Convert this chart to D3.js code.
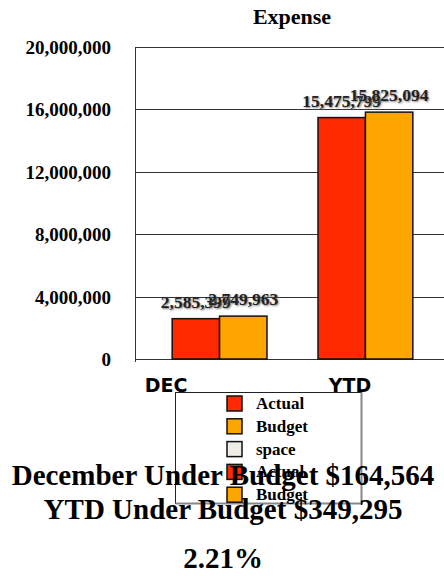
<!DOCTYPE html>
<html>
<head>
<meta charset="utf-8">
<script src="https://cdn.jsdelivr.net/npm/d3@7"></script>
<style>
  body { margin: 0; background: #fff; }
  svg text { font-family: "Liberation Serif", "Times New Roman", serif; font-weight: bold; }
  .val { text-shadow: 1px 1px 2px #777; }
</style>
</head>
<body>
<div id="chart"></div>
<script>
// data
var categories = ["DEC", "YTD"];
var seriesNames = ["Actual", "Budget"];
var actualValues = [2585399, 15475799];
var budgetValues = [2749963, 15825094];
var yTicks = [0, 4000000, 8000000, 12000000, 16000000, 20000000];
var legendNames = ["Actual", "Budget", "space", "Actual", "Budget"];
var summaryLines = ["December Under Budget $164,564", "YTD Under Budget $349,295", "2.21%"];

var W = 444, H = 576;
var svg = d3.select("#chart").append("svg").attr("width", W).attr("height", H);

var colors = {Actual: "#ff2a00", Budget: "#ffa500", space: "#eeeee6"};

var plotLeft = 135, plotRight = 444, plotTop = 47, plotBottom = 359;

var y = d3.scaleLinear().domain([0, 20000000]).range([plotBottom, plotTop]);
var x0 = d3.scaleBand().domain(categories).range([143, 442]).paddingInner(0.35).paddingOuter(0.2);
var x1 = d3.scaleBand().domain(seriesNames).range([0, x0.bandwidth()]);
var xLabel = d3.scalePoint().domain(categories).range([166, 350]);
var fmt = d3.format(",");

// title
svg.append("text").attr("x", 292).attr("y", 24).attr("text-anchor", "middle")
  .style("font-size", "22px").text("Expense");

// gridlines
svg.selectAll(".grid").data(yTicks).enter().append("line")
  .attr("x1", plotLeft).attr("x2", plotRight)
  .attr("y1", function (d) { return Math.round(y(d)) + 0.5; })
  .attr("y2", function (d) { return Math.round(y(d)) + 0.5; })
  .attr("stroke", "#333").attr("stroke-width", 1);

// y labels
svg.selectAll(".ylab").data(yTicks).enter().append("text")
  .attr("x", 111).attr("y", function (d) { return y(d) + 7; })
  .attr("text-anchor", "end").style("font-size", "19px")
  .text(function (d) { return fmt(d); });

// left axis line + bottom tick
svg.append("line").attr("x1", plotLeft + 0.5).attr("x2", plotLeft + 0.5)
  .attr("y1", plotTop).attr("y2", plotBottom + 3).attr("stroke", "#333");

var rows = categories.map(function (c, i) {
  return {cat: c, values: [{key: "Actual", v: actualValues[i]}, {key: "Budget", v: budgetValues[i]}]};
});

var groups = svg.selectAll(".grp").data(rows).enter().append("g")
  .attr("transform", function (d) { return "translate(" + x0(d.cat) + ",0)"; });

groups.selectAll("rect").data(function (d) { return d.values; }).enter().append("rect")
  .attr("x", function (d) { return x1(d.key); })
  .attr("y", function (d) { return y(d.v); })
  .attr("width", x1.bandwidth())
  .attr("height", function (d) { return plotBottom - y(d.v); })
  .attr("fill", function (d) { return colors[d.key]; })
  .attr("stroke", "#111").attr("stroke-width", 1.5);

groups.selectAll(".val").data(function (d) { return d.values; }).enter().append("text")
  .attr("class", "val")
  .attr("x", function (d) { return x1(d.key) + x1.bandwidth() / 2; })
  .attr("y", function (d) { return y(d.v) - 11; })
  .attr("text-anchor", "middle").style("font-size", "17.5px").attr("fill", "#222")
  .text(function (d) { return fmt(d.v); });

// category labels
svg.selectAll(".cat").data(categories).enter().append("text")
  .attr("x", function (d) { return xLabel(d); }).attr("y", 392)
  .attr("text-anchor", "middle")
  .style("font-family", "'DejaVu Sans', sans-serif").style("font-size", "19px")
  .text(function (d) { return d; });

// legend
var lg = svg.append("g");
lg.append("rect").attr("x", 175.5).attr("y", 392.5).attr("width", 186).attr("height", 111)
  .attr("fill", "#fff").attr("stroke", "#222");
lg.append("path").attr("d", "M361.5,392.5V503.5H175.5").attr("fill", "none")
  .attr("stroke", "#888").attr("stroke-width", 2);
var li = lg.selectAll(".li").data(legendNames).enter().append("g")
  .attr("transform", function (d, i) { return "translate(227," + (396 + i * 22.8) + ")"; });
li.append("rect").attr("width", 15).attr("height", 15)
  .attr("fill", function (d) { return colors[d]; }).attr("stroke", "#111").attr("stroke-width", 1.5);
li.append("text").attr("x", 29).attr("y", 13).style("font-size", "17px").text(function (d) { return d; });

// summary text
var sumY = [485, 519, 568];
svg.selectAll(".sum").data(summaryLines).enter().append("text")
  .attr("x", 223).attr("y", function (d, i) { return sumY[i]; })
  .attr("text-anchor", "middle").style("font-size", "29px")
  .text(function (d) { return d; });
</script>
</body>
</html>
